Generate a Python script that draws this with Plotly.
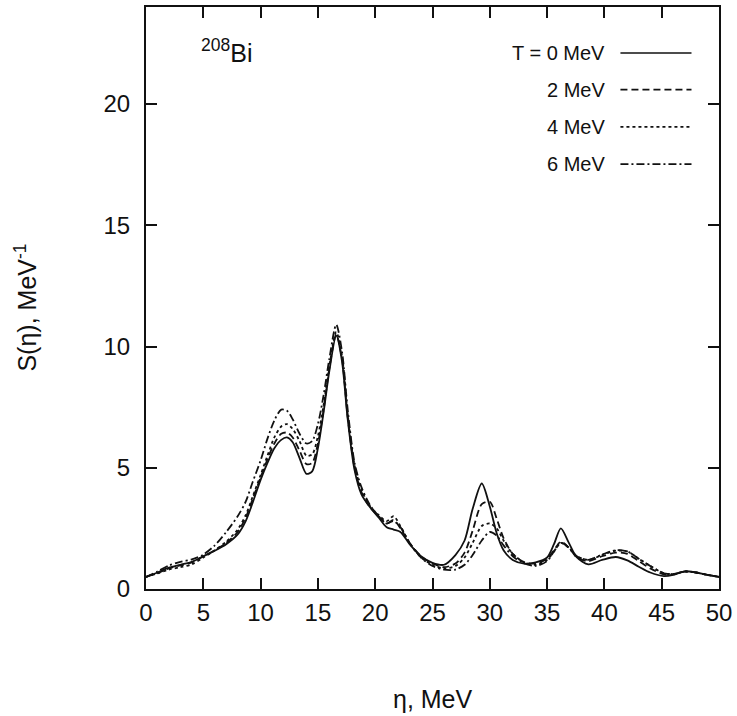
import plotly.graph_objects as go

# ---- data ----
eta = [0, 1, 2, 3, 4, 5, 6, 7, 8, 8.7, 9.3, 10, 10.6, 11.2, 11.8, 12.3, 12.8, 13.4, 14, 14.5,
       15, 15.5, 16, 16.6, 17.1, 17.6, 18.2, 18.8, 19.5, 20.3, 21, 21.6, 22.2, 23, 24, 25, 26,
       27, 27.8, 28.5, 29.3, 30, 30.6, 31.2, 32, 33, 34, 35, 35.6, 36.2, 36.9, 37.6, 38.6, 39.8,
       41, 42, 43, 44, 45.2, 46, 47, 48, 49, 50]

s_T0 = [0.5, 0.68, 0.88, 1.0, 1.12, 1.35, 1.58, 1.85, 2.25, 2.8, 3.55, 4.5, 5.2, 5.8, 6.15, 6.25,
        6.05, 5.4, 4.75, 4.85, 5.8, 7.3, 9.0, 10.45, 9.4, 7.0, 4.9, 3.9, 3.4, 2.95, 2.55, 2.45, 2.35,
        1.85, 1.35, 1.08, 1.0, 1.4, 2.0, 3.3, 4.35, 3.4, 2.3, 1.6, 1.2, 1.05, 1.1, 1.3, 1.85, 2.5,
        1.9, 1.3, 1.02, 1.2, 1.32, 1.18, 0.92, 0.68, 0.53, 0.58, 0.73, 0.68, 0.58, 0.5]

s_T2 = [0.5, 0.66, 0.85, 0.97, 1.1, 1.35, 1.6, 1.9, 2.35, 2.95, 3.7, 4.6, 5.35, 6.0, 6.4, 6.45,
        6.25, 5.7, 5.15, 5.2, 6.0, 7.4, 9.1, 10.5, 9.5, 7.1, 5.0, 4.0, 3.4, 3.0, 2.7, 2.85, 2.5,
        1.9, 1.35, 1.05, 0.9, 1.05, 1.5, 2.4, 3.5, 3.6, 2.9, 2.1, 1.45, 1.1, 1.05, 1.25, 1.6, 1.95,
        1.7, 1.3, 1.15, 1.35, 1.5, 1.45, 1.15, 0.85, 0.6, 0.6, 0.72, 0.68, 0.58, 0.5]

s_T4 = [0.5, 0.64, 0.8, 0.9, 1.02, 1.3, 1.6, 1.95, 2.45, 3.05, 3.8, 4.7, 5.5, 6.25, 6.7, 6.8,
        6.6, 6.1, 5.5, 5.55, 6.3, 7.6, 9.2, 10.6, 9.6, 7.2, 5.1, 4.1, 3.45, 3.05, 2.8, 3.0, 2.6,
        1.9, 1.3, 1.0, 0.85, 0.95, 1.3, 1.9, 2.6, 2.7, 2.5, 2.0, 1.45, 1.1, 1.0, 1.2, 1.55, 1.9,
        1.7, 1.35, 1.2, 1.4, 1.58, 1.55, 1.25, 0.95, 0.65, 0.62, 0.72, 0.68, 0.58, 0.5]

s_T6 = [0.5, 0.72, 0.97, 1.12, 1.22, 1.42, 1.8, 2.35, 3.0, 3.6, 4.4, 5.3, 6.2, 6.95, 7.4, 7.35,
        7.0, 6.4, 6.0, 6.1, 6.8, 8.0, 9.5, 10.9, 9.8, 7.4, 5.2, 4.2, 3.5, 3.0, 2.7, 2.8, 2.55,
        1.9, 1.3, 0.95, 0.8, 0.8, 1.0, 1.4, 2.0, 2.35, 2.2, 1.8, 1.35, 1.05, 0.95, 1.15, 1.55, 1.9,
        1.7, 1.35, 1.2, 1.42, 1.6, 1.55, 1.25, 0.95, 0.65, 0.62, 0.72, 0.68, 0.58, 0.5]

series_names = ["T = 0 MeV", "2 MeV", "4 MeV", "6 MeV"]
series_vals = [s_T0, s_T2, s_T4, s_T6]
dash_styles = ["solid", "7px,4px", "3px,3px", "8px,3px,2px,3px"]

x_ticks = [0, 5, 10, 15, 20, 25, 30, 35, 40, 45, 50]
y_ticks = [0, 5, 10, 15, 20]

FONT = "Liberation Sans, Arial, sans-serif"
INK = "#111111"

fig = go.Figure()
for name, vals, dash in zip(series_names, series_vals, dash_styles):
    fig.add_trace(go.Scatter(
        x=eta, y=vals, mode="lines", name=name, showlegend=False,
        line=dict(color=INK, width=1.8, dash=dash, shape="spline", smoothing=0.8)))

# manual legend (text to the left of the line sample)
leg_y = [0.921, 0.858, 0.794, 0.730]
for name, dash, yy in zip(series_names, dash_styles, leg_y):
    fig.add_annotation(xref="paper", yref="paper", x=0.805, y=yy, text=name,
                       showarrow=False, xanchor="right", yanchor="middle",
                       font=dict(family=FONT, size=20, color=INK))
    fig.add_shape(type="line", xref="paper", yref="paper", x0=0.828, x1=0.952, y0=yy, y1=yy,
                  line=dict(color=INK, width=1.6, dash=dash))

fig.add_annotation(xref="paper", yref="paper", x=0.093, y=0.925, text="<sup>208</sup>Bi",
                   showarrow=False, xanchor="left", yanchor="middle",
                   font=dict(family=FONT, size=25, color=INK))

fig.add_annotation(xref="paper", yref="paper", x=0.5, y=-0.189, text="η, MeV",
                   showarrow=False, xanchor="center", yanchor="middle",
                   font=dict(family=FONT, size=25, color=INK))
fig.add_annotation(xref="paper", yref="paper", x=-0.21, y=0.483, text="S(η), MeV<sup>-1</sup>",
                   showarrow=False, xanchor="center", yanchor="middle", textangle=-90,
                   font=dict(family=FONT, size=25, color=INK))

axis_common = dict(showgrid=False, zeroline=False, showline=True, linecolor=INK, linewidth=2,
                   mirror="ticks", ticks="inside", ticklen=11, tickwidth=1.5, tickcolor=INK,
                   tickfont=dict(family=FONT, size=24, color=INK))

fig.update_xaxes(range=[0, 50], tickmode="array", tickvals=x_ticks,
                 ticktext=[str(v) for v in x_ticks], ticklabelstandoff=1, **axis_common)
fig.update_yaxes(range=[0, 24], tickmode="array", tickvals=y_ticks,
                 ticktext=[str(v) for v in y_ticks], ticklabelstandoff=9, **axis_common)

fig.update_layout(width=737, height=716, margin=dict(l=146, r=16, t=5, b=127),
                  paper_bgcolor="white", plot_bgcolor="white")

fig.write_html("out.html")
